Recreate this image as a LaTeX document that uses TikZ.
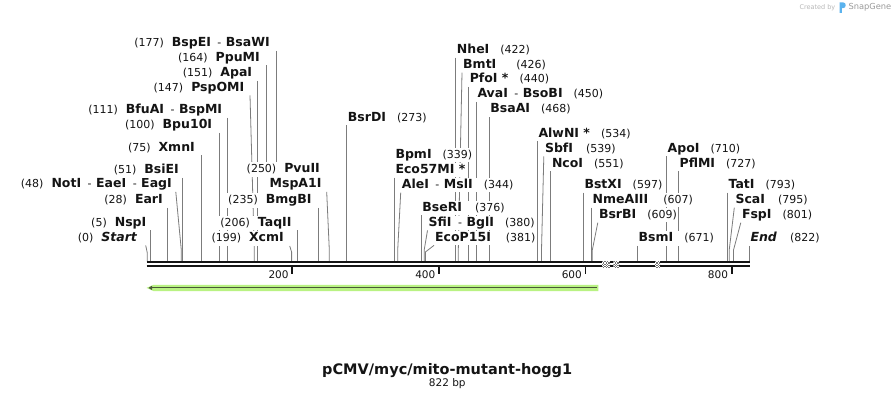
\documentclass[tikz,border=0pt]{standalone}
\usepackage{fontspec}
\setmainfont{DejaVu Sans}
\usetikzlibrary{arrows.meta,backgrounds}
\definecolor{ink}{HTML}{141414}
\definecolor{leadgray}{HTML}{7C7C7C}
\definecolor{featgreen}{HTML}{B9F283}
\definecolor{featdark}{HTML}{4A5838}
\definecolor{snapblue}{HTML}{5BB3EE}
\definecolor{credit}{HTML}{B8B8B8}
\definecolor{creditdark}{HTML}{9A9A9A}

\newcommand\nm[1]{\textbf{#1}}
\newcommand\ps[2][11pt]{\hspace{#1}{\fontsize{11}{14}\selectfont(#2)}}
\newcommand\pl[1]{{\fontsize{11}{14}\selectfont(#1)}\hspace{8pt}}
\newcommand\dsh{{\fontsize{11}{14}\selectfont\hspace{6.5pt}-\hspace{4.5pt}}}

\begin{document}
\begin{tikzpicture}[x=1pt,y=-1pt,every node/.style={font=\fontsize{12.5}{14}\selectfont,text=ink},lbl/.style={fill=white,inner xsep=1pt,inner ysep=0pt,text height=10.5pt,text depth=4pt},lblL/.style={lbl,anchor=east},lblR/.style={lbl,anchor=west},lead/.style={draw=leadgray,line width=.8pt},strand/.style={draw=ink,line width=2.3pt},tick/.style={draw=ink,line width=1.8pt},ticklbl/.style={anchor=east,inner sep=0pt,font=\fontsize{10.5}{12}\selectfont}]
\path[use as bounding box] (0,0) rectangle (896,400);

% backbone and sites
\coordinate (bbtop) at (0,261);
\coordinate (sStart) at (147.3,261);
\coordinate (sNotI) at (181.3,261);
\coordinate (sPspOMI) at (254.3,261);
\coordinate (sMspA1I) at (329.3,261);
\coordinate (sXcmI) at (291.6,261);
\coordinate (sAleI) at (397.7,261);
\coordinate (sSfiI) at (424.2,261);
\coordinate (sEcoP15I) at (425.4,261);
\coordinate (sBmtI) at (458.3,261);
\coordinate (sSbfI) at (541.5,261);
\coordinate (sBsrBI) at (592.3,261);
\coordinate (sScaI) at (729.2,261);
\coordinate (sFspI) at (733.5,261);

\draw[strand] (146.7,262.2) -- (749.5,262.2);
\draw[strand] (146.7,266.2) -- (749.5,266.2);
\foreach \a/\w in {601.7/8.3,613.3/6,655/5}{
  \begin{scope}
    \clip (\a,260.9) rectangle ++(\w,6.6);
    \fill[white] (\a,260.9) rectangle ++(\w,6.6);
    \foreach \i in {0,...,6}{\foreach \j in {0,...,5}{
      \pgfmathtruncatemacro\k{mod(\i+\j,2)}
      \ifnum\k=0 \fill[black!55] (\a+\i*1.3,260.9+\j*1.3) rectangle ++(1.3,1.3);\fi}}
  \end{scope}}
\foreach \x/\n in {292.3/200,439/400,585.5/600,731.7/800}{
  \draw[tick] (\x,267.3) -- ++(0,7);
  \node[ticklbl] (t\n) at (\x-3.5,275) {\n};}

% feature
\fill[featgreen] (598.3,284.8) -- (153.5,284.8) -- (146.5,287.9) -- (153.5,291) -- (598.3,291) -- cycle;
\draw[featdark,line width=1pt,-{Triangle[length=3.5pt,width=4pt]}] (596.8,287.9) -- (148.5,287.9);

% title and credit
\node[font=\fontsize{14.5}{17}\selectfont\bfseries] (title) at (447.2,370.3) {pCMV/myc/mito-mutant-hogg1};
\node[font=\fontsize{10.5}{12}\selectfont] (size) at (447.3,384) {822 bp};
\node[anchor=east,inner sep=0pt,text=credit,font=\fontsize{6.5}{8}\selectfont] (created) at (835.5,7.5) {Created by};
\fill[snapblue] (839.5,12.8) -- (839.5,2.3) -- (843,2.3) .. controls (846.6,2.3) and (846.6,8.2) .. (843,8.2) -- (841.9,8.2) -- (841.9,12.8) -- cycle;
\node[anchor=west,inner sep=0pt,text=creditdark,font=\fontsize{8.3}{10}\selectfont] (snap) at (848.3,7.5) {SnapGene};

% left labels
\node[lblL] (Start) at (138.5,237.9) {\pl{0}\nm{\itshape Start}};
\node[lblL] (NspI) at (147.5,222.9) {\pl{5}\nm{NspI}};
\node[lblL] (EarI) at (164,200.5) {\pl{28}\nm{EarI}};
\node[lblL] (NotI) at (173,184.5) {\pl{48}\nm{NotI}\dsh\nm{EaeI}\dsh\nm{EagI}};
\node[lblL] (BsiEI) at (180,170.5) {\pl{51}\nm{BsiEI}};
\node[lblL] (XmnI) at (196,147.9) {\pl{75}\nm{XmnI}};
\node[lblL] (Bpu10I) at (213.3,125.5) {\pl{100}\nm{Bpu10I}};
\node[lblL] (BfuAI) at (223.3,110.5) {\pl{111}\nm{BfuAI}\dsh\nm{BspMI}};
\node[lblL] (PspOMI) at (245.5,87.9) {\pl{147}\nm{PspOMI}};
\node[lblL] (ApaI) at (253.3,73.5) {\pl{151}\nm{ApaI}};
\node[lblL] (PpuMI) at (261,57.9) {\pl{164}\nm{PpuMI}};
\node[lblL] (BspEI) at (271,43.5) {\pl{177}\nm{BspEI}\dsh\nm{BsaWI}};
\node[lblL] (PvuII) at (321,169.5) {\pl{250}\nm{PvuII}};
\node[lblL] (MspA1I) at (322.7,184.5) {\nm{MspA1I}};
\node[lblL] (BmgBI) at (312.7,200.5) {\pl{235}\nm{BmgBI}};
\node[lblL] (TaqII) at (292.7,222.9) {\pl{206}\nm{TaqII}};
\node[lblL] (XcmI) at (285,238.5) {\pl{199}\nm{XcmI}};

% right labels
\node[lblR] (BsrDI) at (346.7,117.9) {\nm{BsrDI}\ps{273}};
\node[lblR] (BpmI) at (394.3,155.2) {\nm{BpmI}\ps{339}};
\node[lblR] (Eco57MI) at (394.3,170.2) {\nm{Eco57MI *}};
\node[lblR] (AleI) at (400.7,185.2) {\nm{AleI}\dsh\nm{MslI}\ps{344}};
\node[lblR] (BseRI) at (421.2,207.9) {\nm{BseRI}\ps[13pt]{376}};
\node[lblR] (SfiI) at (427.5,222.9) {\nm{SfiI}\dsh\nm{BglI}\ps{380}};
\node[lblR] (EcoP15I) at (434,237.9) {\nm{EcoP15I}\ps[15pt]{381}};
\node[lblR] (NheI) at (455.7,50.2) {\nm{NheI}\ps{422}};
\node[lblR] (BmtI) at (462,65.2) {\nm{BmtI}\ps[20pt]{426}};
\node[lblR] (PfoI) at (468.6,79.5) {\nm{PfoI *}\ps{440}};
\node[lblR] (AvaI) at (476.3,94.5) {\nm{AvaI}\dsh\nm{BsoBI}\ps{450}};
\node[lblR] (BsaAI) at (489.2,109.5) {\nm{BsaAI}\ps{468}};
\node[lblR] (AlwNI) at (537.3,133.9) {\nm{AlwNI *}\ps{534}};
\node[lblR] (SbfI) at (543.8,148.9) {\nm{SbfI}\ps[13pt]{539}};
\node[lblR] (NcoI) at (550.8,163.9) {\nm{NcoI}\ps{551}};
\node[lblR] (BstXI) at (583.3,185.2) {\nm{BstXI}\ps{597}};
\node[lblR] (NmeAIII) at (591.5,200.2) {\nm{NmeAIII}\ps[15pt]{607}};
\node[lblR] (BsrBI) at (597.8,215.2) {\nm{BsrBI}\ps{609}};
\node[lblR] (BsmI) at (637.5,238.5) {\nm{BsmI}\ps{671}};
\node[lblR] (ApoI) at (666.5,148.9) {\nm{ApoI}\ps{710}};
\node[lblR] (PflMI) at (678.4,163.9) {\nm{PflMI}\ps{727}};
\node[lblR] (TatI) at (727.4,185.2) {\nm{TatI}\ps{793}};
\node[lblR] (ScaI) at (734.3,200.2) {\nm{ScaI}\ps[13pt]{795}};
\node[lblR] (FspI) at (740.8,215.2) {\nm{FspI}\ps{801}};
\node[lblR] (End) at (749.3,238.5) {\nm{\itshape End}\ps[13pt]{822}};

% leader lines
\begin{pgfonlayer}{background}
\fill[white] (0,0) rectangle (896,400);
\draw[lead] ([xshift=7.2pt]Start.south east) -- ([yshift=8pt]sStart) -- (sStart);
\draw[lead] ([xshift=3.2pt]NspI.south east) -- ([xshift=3.2pt]NspI.south east |- bbtop);
\draw[lead] ([xshift=3.3pt]EarI.south east) -- ([xshift=3.3pt]EarI.south east |- bbtop);
\draw[lead] ([xshift=2.8pt]NotI.south east) -- ([yshift=11pt]sNotI) -- (sNotI);
\draw[lead] ([xshift=2.7pt]BsiEI.south east) -- ([xshift=2.7pt]BsiEI.south east |- bbtop);
\draw[lead] ([xshift=5.7pt]XmnI.south east) -- ([xshift=5.7pt]XmnI.south east |- bbtop);
\draw[lead] ([xshift=6pt]Bpu10I.south east) -- ([xshift=6pt]Bpu10I.south east |- bbtop);
\draw[lead] ([xshift=4pt]BfuAI.south east) -- ([xshift=4pt]BfuAI.south east |- bbtop);
\draw[lead] ([xshift=4.5pt]PspOMI.south east) -- ([yshift=11pt]sPspOMI) -- (sPspOMI);
\draw[lead] ([xshift=4.2pt]ApaI.south east) -- ([xshift=4.2pt]ApaI.south east |- bbtop);
\draw[lead] ([xshift=5.7pt]PpuMI.south east) -- ([xshift=5.7pt]PpuMI.south east |- PvuII.north);
\draw[lead] ([xshift=5.4pt]BspEI.south east) -- ([xshift=5.4pt]BspEI.south east |- PvuII.north);
\draw[lead] ([xshift=4pt]MspA1I.south east) -- ([yshift=11pt]sMspA1I) -- (sMspA1I);
\draw[lead] ([xshift=5.6pt]BmgBI.south east) -- ([xshift=5.6pt]BmgBI.south east |- bbtop);
\draw[lead] ([xshift=4.6pt]TaqII.south east) -- ([xshift=4.6pt]TaqII.south east |- bbtop);
\draw[lead] ([xshift=4.7pt]XcmI.south east) -- ([yshift=9pt]sXcmI) -- (sXcmI);
\draw[lead] (BsrDI.south west) -- (BsrDI.south west |- bbtop);
\draw[lead] (Eco57MI.south west) -- (Eco57MI.south west |- bbtop);
\draw[lead] (AleI.south west) -- ([yshift=11pt]sAleI) -- (sAleI);
\draw[lead] (BseRI.south west) -- (BseRI.south west |- bbtop);
\draw[lead] (SfiI.south west) -- ([yshift=11pt]sSfiI) -- (sSfiI);
\draw[lead] (EcoP15I.south west) -- ([yshift=9pt]sEcoP15I) -- (sEcoP15I);
\draw[lead] (NheI.south west) -- (NheI.south west |- bbtop);
\draw[lead] (BmtI.south west) -- ([yshift=11pt]sBmtI) -- (sBmtI);
\draw[lead] (PfoI.south west) -- (PfoI.south west |- bbtop);
\draw[lead] (AvaI.south west) -- (AvaI.south west |- bbtop);
\draw[lead] (BsaAI.south west) -- (BsaAI.south west |- bbtop);
\draw[lead] (AlwNI.south west) -- (AlwNI.south west |- bbtop);
\draw[lead] (SbfI.south west) -- ([yshift=11pt]sSbfI) -- (sSbfI);
\draw[lead] (NcoI.south west) -- (NcoI.south west |- bbtop);
\draw[lead] (BstXI.south west) -- (BstXI.south west |- bbtop);
\draw[lead] (NmeAIII.south west) -- (NmeAIII.south west |- bbtop);
\draw[lead] (BsrBI.south west) -- ([yshift=11pt]sBsrBI) -- (sBsrBI);
\draw[lead] (BsmI.south west) -- (BsmI.south west |- bbtop);
\draw[lead] (ApoI.south west) -- (ApoI.south west |- bbtop);
\draw[lead] (PflMI.south west) -- (PflMI.south west |- bbtop);
\draw[lead] (TatI.south west) -- (TatI.south west |- bbtop);
\draw[lead] (ScaI.south west) -- ([yshift=11pt]sScaI) -- (sScaI);
\draw[lead] (FspI.south west) -- ([yshift=11pt]sFspI) -- (sFspI);
\draw[lead] (End.south west) -- (End.south west |- bbtop);
\end{pgfonlayer}

\end{tikzpicture}
\end{document}
